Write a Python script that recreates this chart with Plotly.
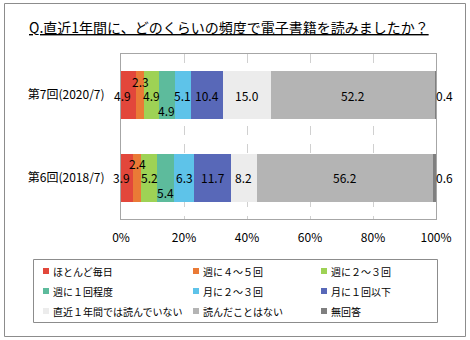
import plotly.graph_objects as go

# Survey waves (bottom to top on the chart)
waves = ["第6回(2018/7)", "第7回(2020/7)"]

series_names = [
    "ほとんど毎日", "週に４～５回", "週に２～３回",
    "週に１回程度", "月に２～３回", "月に１回以下",
    "直近１年間では読んでいない", "読んだことはない", "無回答",
]
series_colors = [
    "#e2473b", "#ea7a36", "#9ed255", "#5dbb9c", "#5ec3e9",
    "#5868b8", "#ececec", "#b4b4b4", "#7f7f7f",
]

# Percentages per series, ordered as [第6回, 第7回]
values_2018 = [3.9, 2.4, 5.2, 5.4, 6.3, 11.7, 8.2, 56.2, 0.6]
values_2020 = [4.9, 2.3, 4.9, 4.9, 5.1, 10.4, 15.0, 52.2, 0.4]

tick_vals = [0, 20, 40, 60, 80, 100]
tick_text = ["0%", "20%", "40%", "60%", "80%", "100%"]

W, H = 470, 340
ML, MR, MT, MB = 121, 34, 54, 121
PW, PH = W - ML - MR, H - MT - MB
FONT = "Noto Sans CJK JP"


def px_x(px):
    return (px - ML) / PW


def px_y(py):
    return (H - MB - py) / PH


fig = go.Figure()
for i, name in enumerate(series_names):
    fig.add_trace(go.Bar(
        y=waves,
        x=[values_2018[i], values_2020[i]],
        orientation="h",
        name=name,
        marker=dict(color=series_colors[i], line=dict(width=0)),
        showlegend=False,
        hoverinfo="x+name",
    ))

# Value labels: centred in each segment, small ones nudged up/down, last one outside
row_values = {waves[0]: values_2018, waves[1]: values_2020}
annotations = []
for wave, vals in row_values.items():
    cum = 0.0
    for i, v in enumerate(vals):
        mid = cum + v / 2
        cum += v
        label = f"{v:.1f}"
        if i == len(vals) - 1:
            annotations.append(dict(x=min(cum, 100), y=wave, text=label, showarrow=False,
                                    xanchor="left", xshift=-2,
                                    font=dict(size=12, color="#000", family=FONT)))
            continue
        yshift, xshift = 0, 0
        if i == 0:
            xshift = -6
        elif i == 1:
            yshift = 14
        elif i == 3:
            yshift = -15
        annotations.append(dict(x=mid, y=wave, text=label, showarrow=False,
                                xshift=xshift, yshift=yshift,
                                font=dict(size=12, color="#000", family=FONT)))

# Title
annotations.append(dict(
    xref="paper", yref="paper", x=px_x(27), y=px_y(27),
    xanchor="left", yanchor="middle", showarrow=False,
    text="<u>Q.直近1年間に、どのくらいの頻度で電子書籍を読みましたか？</u>",
    font=dict(size=14, color="#000", family=FONT),
))

shapes = [
    # outer frame
    dict(type="rect", xref="paper", yref="paper",
         x0=px_x(4.5), x1=px_x(465.5), y0=px_y(3.5), y1=px_y(336.5),
         line=dict(color="#8c8c8c", width=1), layer="below"),
    # legend frame
    dict(type="rect", xref="paper", yref="paper",
         x0=px_x(33.5), x1=px_x(437.5), y0=px_y(259.5), y1=px_y(322.5),
         line=dict(color="#8c8c8c", width=1)),
]

# Legend entries in a 3-column grid
col_x = [43, 193, 321]
row_y = [271, 291, 311]
for i, name in enumerate(series_names):
    cx = col_x[i % 3]
    cy = row_y[i // 3]
    shapes.append(dict(type="rect", xref="paper", yref="paper",
                       x0=px_x(cx), x1=px_x(cx + 6), y0=px_y(cy - 3), y1=px_y(cy + 3),
                       fillcolor=series_colors[i], line=dict(width=0)))
    annotations.append(dict(xref="paper", yref="paper", x=px_x(cx + 8), y=px_y(cy),
                            xanchor="left", yanchor="middle", showarrow=False,
                            text=name, font=dict(size=10, color="#000", family=FONT)))

fig.update_layout(
    width=W, height=H,
    margin=dict(l=ML, r=MR, t=MT, b=MB),
    barmode="stack",
    bargap=0.42,
    paper_bgcolor="#ffffff",
    plot_bgcolor="#ffffff",
    font=dict(family=FONT, size=12, color="#000"),
    annotations=annotations,
    shapes=shapes,
    xaxis=dict(
        range=[0, 100], tickvals=tick_vals, ticktext=tick_text,
        showgrid=True, gridcolor="#d0d0d0", griddash="dash", gridwidth=1,
        showline=True, linecolor="#a6a6a6", mirror=True,
        zeroline=False, ticks="", ticklabelstandoff=8,
        tickfont=dict(size=12, color="#000", family=FONT),
        fixedrange=True,
    ),
    yaxis=dict(
        categoryorder="array", categoryarray=waves,
        showline=True, linecolor="#a6a6a6", mirror=True,
        showgrid=False, ticks="", ticklabelstandoff=13,
        tickfont=dict(size=12, color="#000", family=FONT),
        fixedrange=True,
    ),
)

fig.write_html("out.html")
